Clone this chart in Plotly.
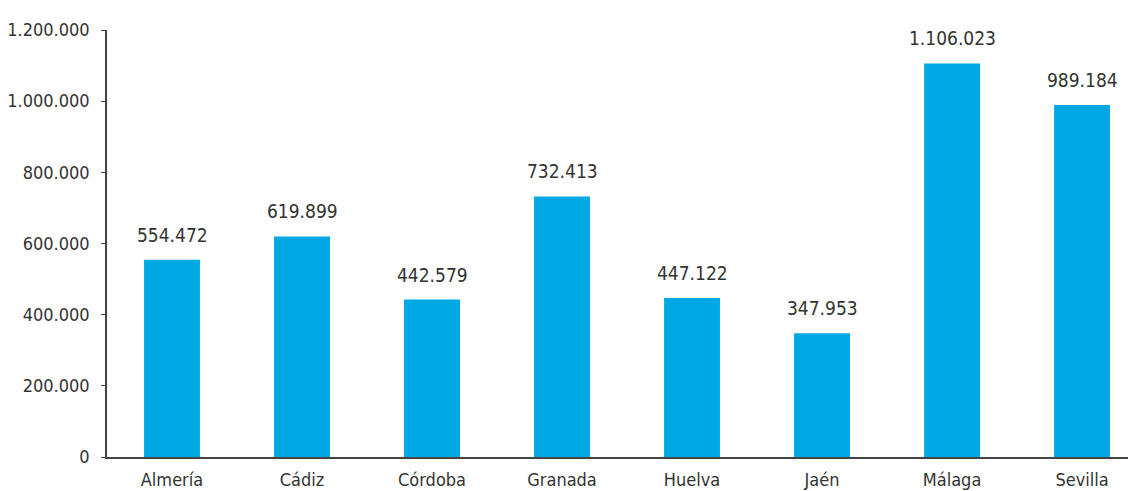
import plotly.graph_objects as go

provinces = ["Almería", "Cádiz", "Córdoba", "Granada", "Huelva", "Jaén", "Málaga", "Sevilla"]
values = [554472, 619899, 442579, 732413, 447122, 347953, 1106023, 989184]
y_ticks = [0, 200000, 400000, 600000, 800000, 1000000, 1200000]

FONT = "Liberation Sans Narrow, Arial Narrow, DejaVu Sans Condensed, sans-serif"
TEXT = "#333333"

def fmt(v):
    return f"{v:,}".replace(",", ".")

fig = go.Figure()
fig.add_trace(go.Bar(
    x=provinces, y=values,
    marker=dict(color="#00A9E3", line=dict(width=0)),
    width=0.43,
    hoverinfo="skip",
))

for p, v in zip(provinces, values):
    fig.add_annotation(x=p, y=v, text=fmt(v), showarrow=False,
                       yanchor="bottom", yshift=12,
                       font=dict(family=FONT, size=19, color=TEXT))

fig.update_layout(
    width=1128, height=483,
    margin=dict(l=99, r=0, t=22, b=34),
    paper_bgcolor="white", plot_bgcolor="white",
    showlegend=False,
    separators=",.",
    font=dict(family=FONT, color=TEXT),
)
fig.update_xaxes(
    range=[-0.5, 7.415],
    showline=True, linecolor="#444444", linewidth=1.5,
    ticks="", showgrid=False,
    tickfont=dict(family=FONT, size=18, color=TEXT),
    ticklabelstandoff=6,
)
fig.update_yaxes(
    range=[0, 1200000],
    tickvals=y_ticks,
    tickformat=",d",
    showline=True, linecolor="#444444", linewidth=1.5,
    ticks="outside", ticklen=4, tickcolor="#444444",
    showgrid=False, zeroline=False,
    tickfont=dict(family=FONT, size=18, color=TEXT),
    ticklabelstandoff=8,
)

fig.write_html("out.html")
